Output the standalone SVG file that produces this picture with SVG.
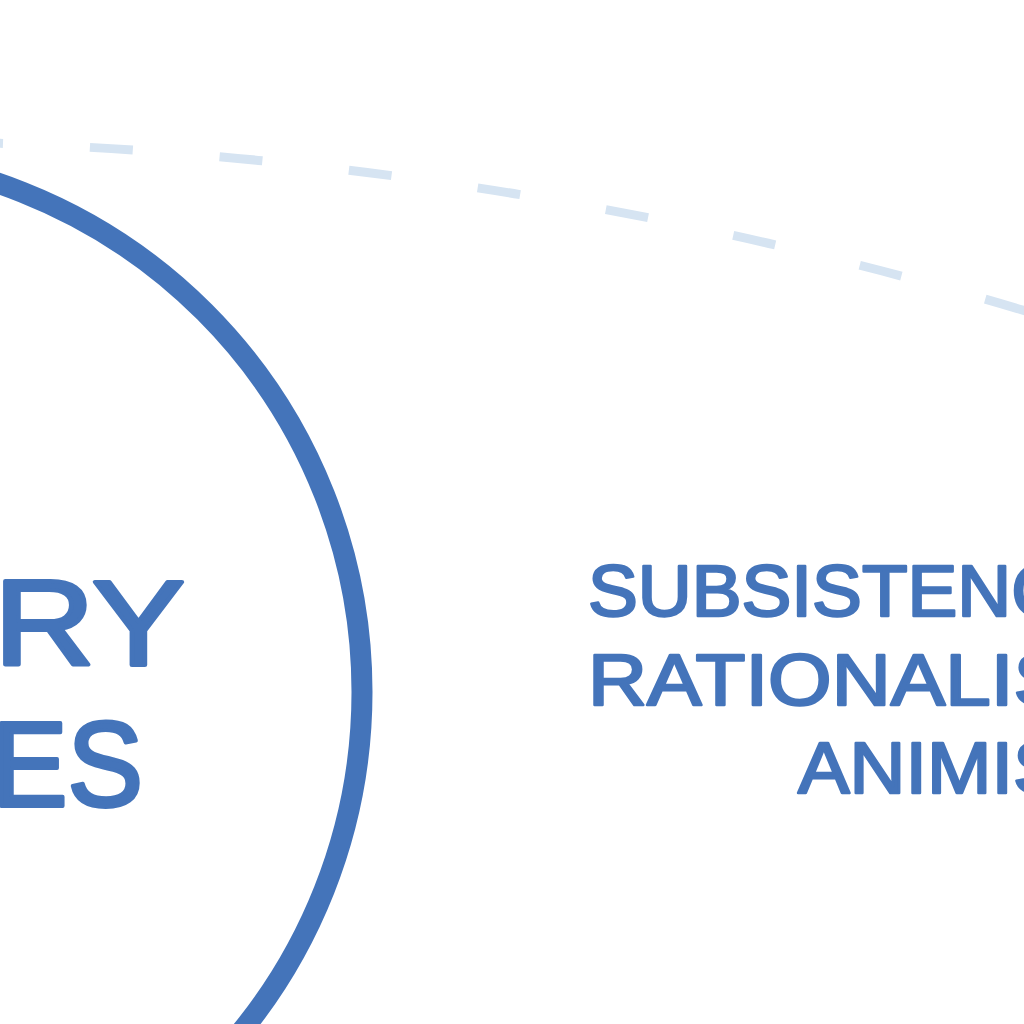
<svg xmlns="http://www.w3.org/2000/svg" width="1024" height="1024" viewBox="0 0 1024 1024">
  <style>
    .ring { fill: none; stroke: #4474ba; stroke-width: 21; }
    .outer { fill: none; stroke: #d6e4f2; stroke-width: 9; stroke-dasharray: 43 87; stroke-dashoffset: 30; }
    .big { font-family: "Liberation Sans", Arial, sans-serif; font-size: 120px; fill: #4474ba; stroke: #4474ba; stroke-width: 4; stroke-linejoin: round; }
    .lbl { font-family: "Liberation Sans", Arial, sans-serif; font-size: 72px; fill: #4474ba; stroke: #4474ba; stroke-width: 2.5; stroke-linejoin: round; }
  </style>
  <rect width="1024" height="1024" fill="#ffffff"/>
  <g id="connectors">
    <path class="outer" d="M -10 143 A 4067 4067 0 0 1 1034 313.5"/>
  </g>
  <g id="node-circle">
    <circle class="ring" cx="-175.5" cy="692" r="537.5"/>
    <text class="big" x="-6" y="665" textLength="191" lengthAdjust="spacingAndGlyphs">RY</text>
    <text class="big" x="-8" y="806" textLength="151" lengthAdjust="spacingAndGlyphs">ES</text>
  </g>
  <g id="node-label">
    <text class="lbl" x="588" y="616" textLength="527" lengthAdjust="spacingAndGlyphs">SUBSISTENCE</text>
    <text class="lbl" x="588" y="705" textLength="548" lengthAdjust="spacingAndGlyphs">RATIONALISM</text>
    <text class="lbl" x="798" y="793" textLength="331" lengthAdjust="spacingAndGlyphs">ANIMISM</text>
  </g>
</svg>
